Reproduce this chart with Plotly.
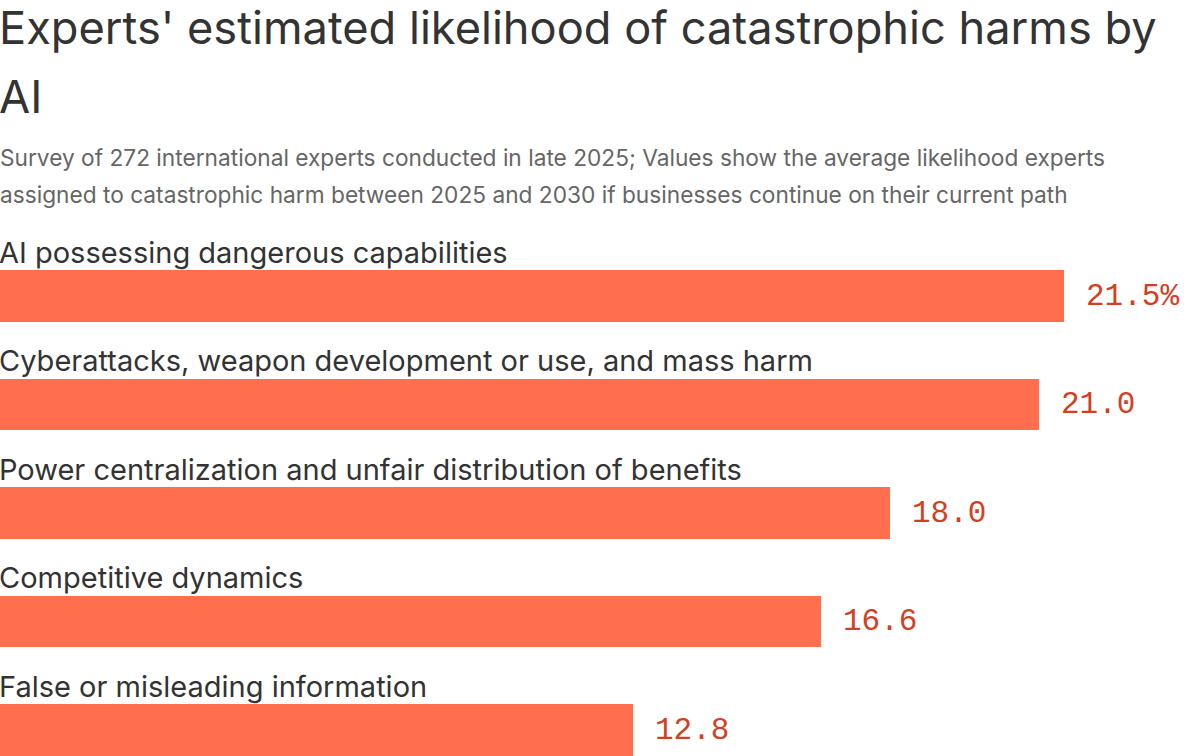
import plotly.graph_objects as go

categories = [
    "AI possessing dangerous capabilities",
    "Cyberattacks, weapon development or use, and mass harm",
    "Power centralization and unfair distribution of benefits",
    "Competitive dynamics",
    "False or misleading information",
]
values = [21.5, 21.0, 18.0, 16.6, 12.8]
value_labels = ["21.5%", "21.0", "18.0", "16.6", "12.8"]

W, H = 1200, 756
BAR_COLOR = "#ff6e4d"
VALUE_COLOR = "#d3401f"
TEXT_DARK = "#333333"
FONT = "Inter"

idx = list(range(len(categories)))

fig = go.Figure()
fig.add_trace(go.Bar(
    x=values, y=idx, orientation="h",
    marker=dict(color=BAR_COLOR, line=dict(width=0)),
    width=0.479, hoverinfo="skip",
))

def py(p):
    return 1 - p / H

ann = []
ann.append(dict(text="Experts' estimated likelihood of catastrophic harms by",
                x=0, y=py(28), xref="paper", yref="paper", xanchor="left", yanchor="middle",
                xshift=-3, showarrow=False, font=dict(family=FONT, size=45.2, color=TEXT_DARK)))
ann.append(dict(text="AI",
                x=0, y=py(96), xref="paper", yref="paper", xanchor="left", yanchor="middle",
                xshift=-3, showarrow=False, font=dict(family=FONT, size=45.2, color=TEXT_DARK)))
ann.append(dict(text="Survey of 272 international experts conducted in late 2025; Values show the average likelihood experts",
                x=0, y=py(157), xref="paper", yref="paper", xanchor="left", yanchor="middle",
                xshift=-2, showarrow=False, font=dict(family=FONT, size=22.7, color="#666666")))
ann.append(dict(text="assigned to catastrophic harm between 2025 and 2030 if businesses continue on their current path",
                x=0, y=py(194), xref="paper", yref="paper", xanchor="left", yanchor="middle",
                xshift=-2, showarrow=False, font=dict(family=FONT, size=22.7, color="#666666")))

for i, (c, v, lab) in enumerate(zip(categories, values, value_labels)):
    ann.append(dict(text=c, x=0, y=i, xref="x", yref="y", xanchor="left", yanchor="middle",
                    yshift=44, xshift=-3, showarrow=False,
                    font=dict(family=FONT, size=29, color=TEXT_DARK)))
    ann.append(dict(text=lab, x=v, y=i, xref="x", yref="y", xanchor="left", yanchor="middle",
                    xshift=20, showarrow=False,
                    font=dict(family="Liberation Mono", size=31, color=VALUE_COLOR)))

fig.update_layout(
    width=W, height=H,
    margin=dict(l=0, r=0, t=0, b=0),
    paper_bgcolor="white", plot_bgcolor="white",
    showlegend=False,
    xaxis=dict(range=[0, W / 49.47], visible=False, fixedrange=True),
    yaxis=dict(range=[4.2396, -2.7281], visible=False, fixedrange=True),
    annotations=ann,
    bargap=0,
)

fig.write_html("out.html")
